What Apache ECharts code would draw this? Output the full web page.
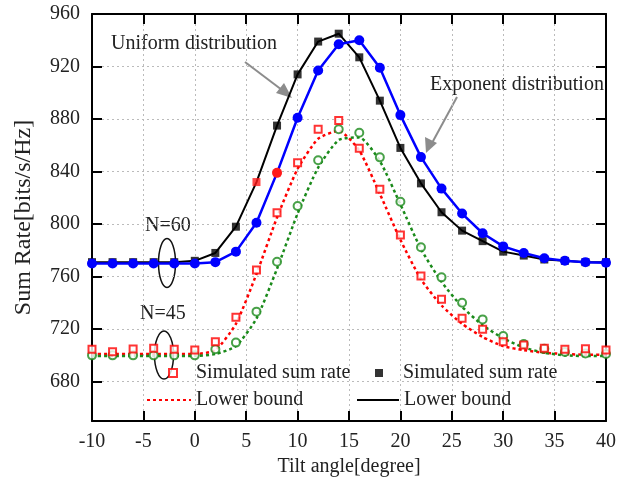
<!DOCTYPE html>
<html>
<head>
<meta charset="utf-8">
<script src="https://cdn.jsdelivr.net/npm/echarts@6/dist/echarts.min.js"></script>
<style>
  html, body { margin: 0; padding: 0; background: #fff; }
  #chart { width: 619px; height: 484px; }
</style>
</head>
<body>
<div id="chart"></div>
<script>
// tilt angles (degree), one marker every 2 degrees
const angles = [-10, -8, -6, -4, -2, 0, 2, 4, 6, 8, 10, 12, 14, 16, 18, 20, 22, 24, 26, 28, 30, 32, 34, 36, 38, 40]

// N=60, uniform distribution (black)
const uniformSim60 = [771, 771, 771, 771, 771, 772, 778, 798, 832, 875, 914, 939, 945, 927, 894, 858, 831, 809, 795, 787, 779, 776, 773, 772, 771, 771]
const uniformBound60 = [771, 771, 771, 771, 771, 772, 778, 798, 832, 875, 914, 939, 945, 927, 894, 858, 831, 809, 795, 787, 779, 776, 773, 772, 771, 771]
// N=60, exponent distribution (blue)
const exponentSim60 = [770, 770, 770, 770, 770, 770, 771, 779, 801, 839, 881, 917, 937, 940, 919, 883, 851, 827, 808, 793, 783, 778, 774, 772, 771, 770.5]

// N=45, uniform distribution (red)
const uniformSim45 = [704.6, 702.8, 704.8, 705.4, 704.6, 704, 710.4, 729, 765, 808.7, 846.7, 872.2, 878.8, 857.7, 826.5, 791.7, 760.4, 742.7, 728.2, 719.8, 710.4, 707.9, 705.4, 704.6, 705, 704]
const uniformBound45 = [701, 701, 701, 701, 701, 701, 704, 724, 762, 805, 842, 865, 871, 856, 823, 788, 758, 738, 724, 714, 707, 704, 702, 701, 700.5, 700.5]
// N=45, exponent distribution (green)
const exponentSim45 = [700, 700, 700, 700, 700, 700, 704.6, 709.7, 733.3, 771.3, 813.8, 848.6, 872.2, 869.6, 850.8, 817, 782.3, 759.4, 740, 727.4, 714.7, 708.6, 705, 702.5, 701.5, 701]
const exponentBound45 = [699.5, 699.5, 699.5, 699.5, 699.5, 699.5, 701, 707, 728, 766, 808, 843, 864, 866, 848, 815, 781, 756, 737, 723, 713, 706, 702, 700, 699.5, 699.5]

// points drawn in red in the original figure
const redMarkedUniform60 = [6]
const redMarkedExponent60 = [8]

const yTicks = [680, 720, 760, 800, 840, 880, 920, 960]

const FONT = '"Liberation Serif", "DejaVu Serif", serif'
const TXT = '#222'

const pairs = (ys) => angles.map((a, i) => [a, ys[i]])

const chart = echarts.init(document.getElementById('chart'))

const legendNames = {
  sim45: 'Simulated sum rate',
  sim60: 'Simulated sum rate',
  lb45: 'Lower bound',
  lb60: 'Lower bound'
}
const legendBase = {
  orient: 'horizontal',
  symbolKeepAspect: true,
  textStyle: { fontFamily: FONT, fontSize: 20, color: TXT },
  formatter: name => legendNames[name],
  selectedMode: false
}
const hiddenSymbol = { color: 'rgba(0,0,0,0)', borderWidth: 0, opacity: 0 }

const option = {
  animation: false,
  backgroundColor: '#fff',
  grid: { left: 92, right: 11, top: 14, bottom: 63 },
  legend: [
    // square markers: small icon box, text pushed right with padding
    Object.assign({}, legendBase, {
      data: ['sim45'], left: 163, top: 358, itemWidth: 8, itemHeight: 8,
      textStyle: Object.assign({}, legendBase.textStyle, { padding: [0, 0, 0, 14] })
    }),
    Object.assign({}, legendBase, {
      data: ['sim60'], left: 370, top: 358, itemWidth: 8, itemHeight: 8,
      textStyle: Object.assign({}, legendBase.textStyle, { padding: [0, 0, 0, 15] })
    }),
    Object.assign({}, legendBase, { data: ['lb45'], left: 141, top: 385, itemWidth: 44, itemHeight: 10, itemStyle: hiddenSymbol }),
    Object.assign({}, legendBase, { data: ['lb60'], left: 351, top: 385, itemWidth: 42, itemHeight: 10, itemStyle: hiddenSymbol })
  ],
  xAxis: [
    {
      type: 'value',
      min: -10,
      max: 40,
      interval: 5,
      name: 'Tilt angle[degree]',
      nameLocation: 'middle',
      nameGap: 36,
      nameTextStyle: { fontFamily: FONT, fontSize: 20, color: TXT },
      axisLine: { onZero: false, lineStyle: { color: '#000', width: 2 } },
      axisTick: { inside: true, length: 10, lineStyle: { color: '#000', width: 2 } },
      axisLabel: { fontFamily: FONT, fontSize: 20, color: TXT, margin: 11 },
      splitLine: { show: true, lineStyle: { color: '#bbb', type: [2, 3], width: 1 } }
    },
    {
      type: 'value',
      position: 'top',
      min: -10,
      max: 40,
      interval: 5,
      axisLine: { onZero: false, lineStyle: { color: '#000', width: 2 } },
      axisTick: { inside: true, length: 10, lineStyle: { color: '#000', width: 2 } },
      axisLabel: { show: false },
      splitLine: { show: false }
    }
  ],
  yAxis: [
    {
      type: 'value',
      min: 650,
      max: 960,
      name: 'Sum Rate[bits/s/Hz]',
      nameLocation: 'middle',
      nameGap: 56,
      nameTextStyle: { fontFamily: FONT, fontSize: 24, color: TXT },
      axisLine: { onZero: false, lineStyle: { color: '#000', width: 2 } },
      axisTick: { inside: true, length: 10, customValues: yTicks, lineStyle: { color: '#000', width: 2 } },
      axisLabel: { fontFamily: FONT, fontSize: 20, color: TXT, margin: 12, customValues: yTicks },
      splitLine: { show: true, lineStyle: { color: '#bbb', type: [2, 3], width: 1 } }
    },
    {
      type: 'value',
      position: 'right',
      min: 650,
      max: 960,
      axisLine: { show: true, onZero: false, lineStyle: { color: '#000', width: 2 } },
      axisTick: { show: true, inside: true, length: 10, customValues: yTicks, lineStyle: { color: '#000', width: 2 } },
      axisLabel: { show: false },
      splitLine: { show: false }
    }
  ],
  series: [
    {
      name: 'lb45',
      type: 'line',
      smooth: 0.2,
      symbol: 'none',
      lineStyle: { color: '#ff0000', width: 2.5, type: [3, 3] },
      itemStyle: { color: '#ff0000' },
      data: pairs(uniformBound45),
      z: 2
    },
    {
      name: 'expLb45',
      type: 'line',
      smooth: 0.2,
      symbol: 'none',
      lineStyle: { color: '#1a8a1a', width: 2.5, type: [3, 3] },
      itemStyle: { color: '#1a8a1a' },
      data: pairs(exponentBound45),
      z: 2
    },
    {
      name: 'expSim45',
      type: 'scatter',
      symbol: 'circle',
      symbolSize: 8,
      itemStyle: { color: '#fff', borderColor: '#1a8a1a', borderWidth: 2 },
      data: pairs(exponentSim45),
      z: 3
    },
    {
      name: 'sim45',
      type: 'scatter',
      symbol: 'rect',
      symbolSize: 7,
      itemStyle: { color: '#fff', borderColor: '#ff0000', borderWidth: 2 },
      data: pairs(uniformSim45),
      z: 4
    },
    {
      name: 'lb60',
      type: 'line',
      symbol: 'none',
      lineStyle: { color: '#000', width: 2 },
      itemStyle: { color: '#000' },
      data: pairs(uniformBound60),
      z: 5
    },
    {
      name: 'sim60',
      type: 'scatter',
      symbol: 'rect',
      symbolSize: 8,
      itemStyle: { color: '#000' },
      data: angles.map((a, i) => redMarkedUniform60.includes(a)
        ? { value: [a, uniformSim60[i]], itemStyle: { color: '#ff1a1a' } }
        : [a, uniformSim60[i]]),
      z: 6
    },
    {
      name: 'exp60',
      type: 'line',
      symbol: 'circle',
      symbolSize: 10,
      lineStyle: { color: '#0000ff', width: 2.5 },
      itemStyle: { color: '#0000ff' },
      data: angles.map((a, i) => redMarkedExponent60.includes(a)
        ? { value: [a, exponentSim60[i]], itemStyle: { color: '#ff1a1a' } }
        : [a, exponentSim60[i]]),
      z: 7
    }
  ],
  graphic: [
    // annotations
    { type: 'text', left: 111, top: 34, style: { text: 'Uniform distribution', font: '20px ' + FONT, fill: TXT } },
    { type: 'line', shape: { x1: 245, y1: 62, x2: 282, y2: 90 }, style: { stroke: '#8c8c8c', lineWidth: 2 } },
    { type: 'polygon', shape: { points: [[292, 98], [276, 93], [284, 83]] }, style: { fill: '#8c8c8c' } },
    { type: 'text', left: 430, top: 75, style: { text: 'Exponent distribution', font: '20px ' + FONT, fill: TXT } },
    { type: 'line', shape: { x1: 457, y1: 97, x2: 432, y2: 143 }, style: { stroke: '#8c8c8c', lineWidth: 2 } },
    { type: 'polygon', shape: { points: [[426, 153], [425, 137], [437, 143]] }, style: { fill: '#8c8c8c' } },
    { type: 'text', left: 145, top: 216, style: { text: 'N=60', font: '20px ' + FONT, fill: TXT } },
    { type: 'ellipse', shape: { cx: 167, cy: 263, rx: 8.5, ry: 24.5 }, style: { fill: 'none', stroke: '#111', lineWidth: 1.5 } },
    { type: 'text', left: 140, top: 304, style: { text: 'N=45', font: '20px ' + FONT, fill: TXT } },
    { type: 'ellipse', shape: { cx: 164, cy: 355, rx: 9.5, ry: 24 }, style: { fill: 'none', stroke: '#111', lineWidth: 1.5 } }
  ]
}

chart.setOption(option)
</script>
</body>
</html>
